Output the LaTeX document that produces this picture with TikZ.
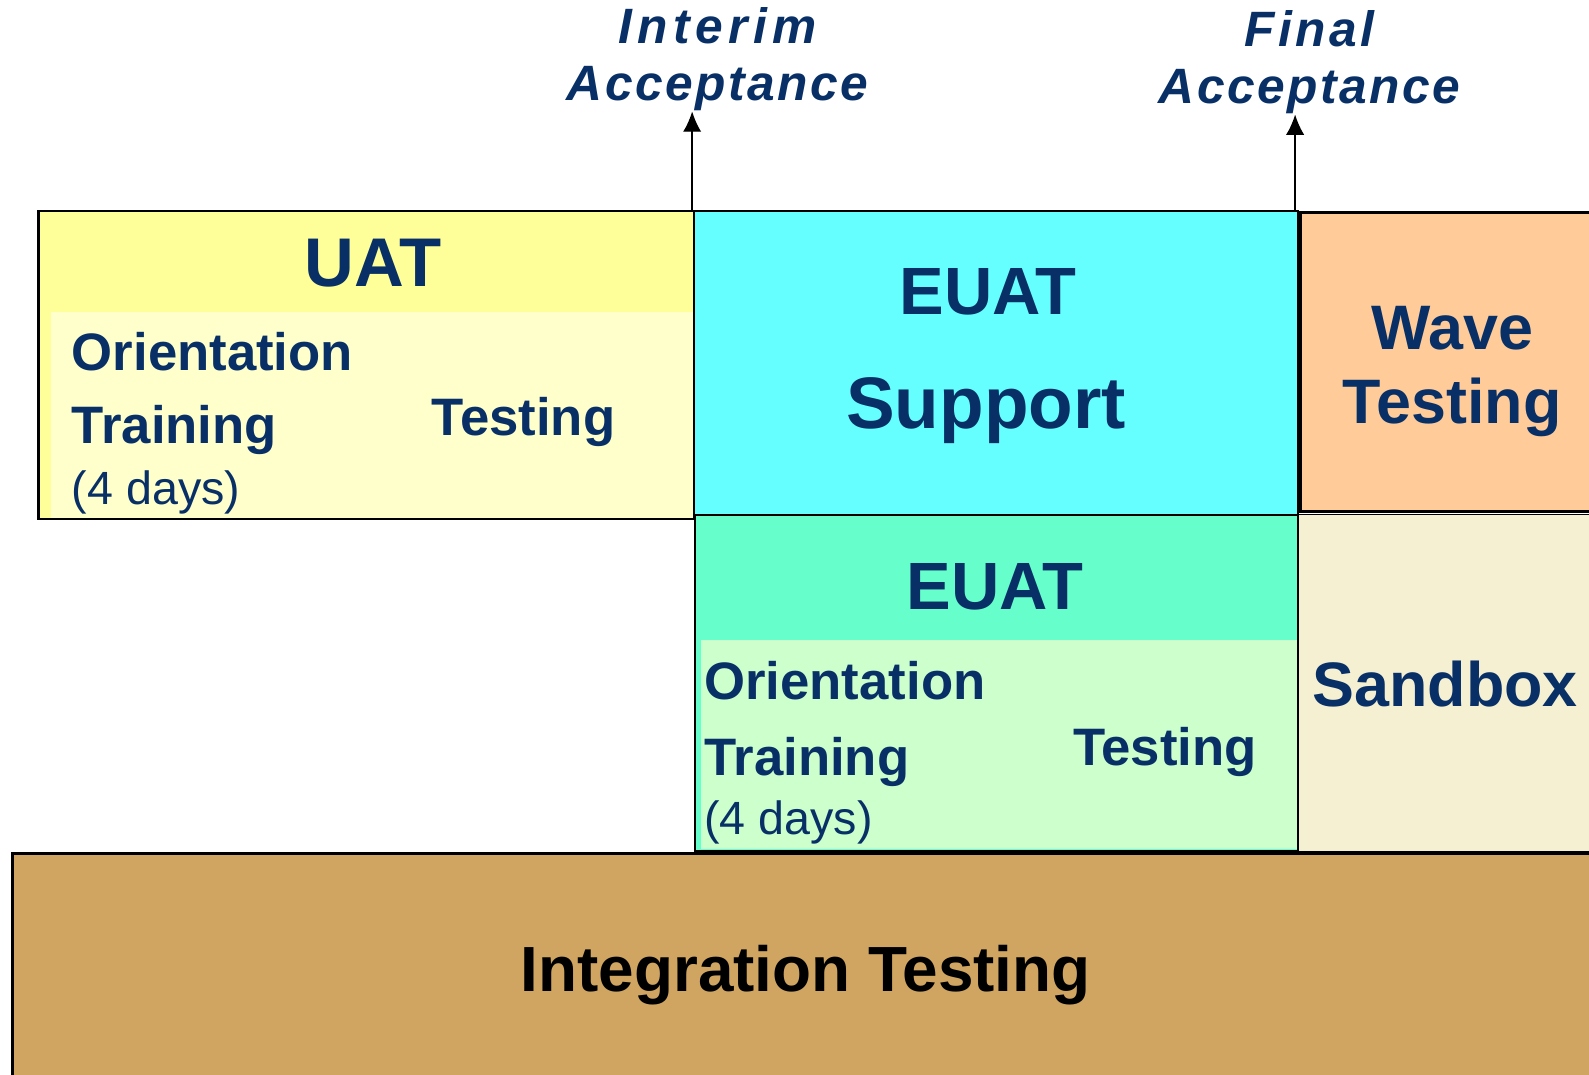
\documentclass[tikz,border=0pt]{standalone}
\usepackage{fontspec}
\setmainfont{Liberation Sans}
\usetikzlibrary{fit, arrows.meta}

\definecolor{navy}{RGB}{8,48,102}
\definecolor{uatyellow}{HTML}{FFFF99}
\definecolor{uatpale}{HTML}{FFFFCC}
\definecolor{supportcyan}{HTML}{66FFFF}
\definecolor{waveorange}{HTML}{FFCC99}
\definecolor{euatgreen}{HTML}{66FFCC}
\definecolor{euatpale}{HTML}{CCFFCC}
\definecolor{sandbeige}{HTML}{F6F0D2}
\definecolor{integtan}{HTML}{D0A561}

\begin{document}
\begin{tikzpicture}[
        x = 0.5pt, y = -0.5pt,
        line width = 1pt,
        pointer/.style = {-{Latex[length = 10pt, width = 9pt]}, line width = 0.7pt},
        box/.style = {draw = black, inner sep = 0pt},
        pane/.style = {draw = none, inner sep = 0pt},
        heading/.style = {text = navy, font = \bfseries\fontsize{#1}{#1}\selectfont, anchor = base},
        heading/.default = 33,
        item/.style = {text = navy, font = \bfseries\fontsize{26}{28}\selectfont, anchor = base west, inner sep = 0pt},
        days/.style = {text = navy, font = \fontsize{23}{25}\selectfont, anchor = base west, inner sep = 0pt},
        milestone/.style = {text = navy, font = \bfseries\itshape\fontsize{24.5}{28}\selectfont, align = center, anchor = south, inner sep = 0pt}
    ]
    \useasboundingbox (0,0) rectangle (1568,1060);

    % boxes, back to front
    \node[box, fill = integtan, line width = 1.5pt, fit = {(12,842) (1590,1080)}] (integ) {};
    \node[box, fill = sandbeige, line width = 0.6pt, fit = {(1281,508) (1590,840)}] (sandbox) {};
    \node[box, fill = waveorange, line width = 1.5pt, fit = {(1283,210) (1590,505)}] (wave) {};
    \node[box, fill = euatgreen, fit = {(686,508) (1281,840)}] (euat) {};
    \node[pane, fill = euatpale, fit = {(692,632) (1280,838)}] (euatpane) {};
    \node[box, fill = supportcyan, fit = {(685,208) (1281,508)}] (support) {};
    \node[box, fill = uatyellow, fit = {(38,208) (685,512)}] (uat) {};
    \node[pane, fill = uatpale, fit = {(50,308) (684,511)}] (uatpane) {};

    % UAT
    \node[heading = 34] (uattitle) at (368,283) {UAT};
    \node[item] (uatorient) at (70,366) {Orientation};
    \node[item] (uattrain) at (70,438) {Training};
    \node[days] (uatdays) at (70,498) {(4 days)};
    \node[item] (uattest) at (425,430) {Testing};

    % EUAT support and wave
    \node[heading] (supporttitle) at (975,310) {EUAT};
    \node[heading = 36] (supportword) at (973,423) {Support};
    \node[heading = 31] (wavetitle) at (1433,345) {Wave};
    \node[heading = 31] (wavetest) at (1433,418) {Testing};

    % EUAT
    \node[heading] (euattitle) at (982,601) {EUAT};
    \node[item] (euatorient) at (694,690) {Orientation};
    \node[item] (euattrain) at (694,765) {Training};
    \node[days] (euatdays) at (694,823) {(4 days)};
    \node[item] (euattest) at (1058,755) {Testing};

    \node[heading = 31] (sandtitle) at (1426,697) {Sandbox};
    \node[heading = 31.5, text = black] (integtitle) at (795,978) {Integration Testing};

    % milestones
    \node[milestone] (interim) at (708,110) {\addfontfeature{LetterSpace = 11}Interim\\\addfontfeature{LetterSpace = 5}Acceptance};
    \node[milestone] (final) at (1292,113) {\addfontfeature{LetterSpace = 7}Final\\\addfontfeature{LetterSpace = 5}Acceptance};
    \draw[pointer] ([xshift = -1.5pt]uat.north east) -- ([xshift = -1.5pt]uat.north east |- interim.south);
    \draw[pointer] ([xshift = -2pt]support.north east) -- ([xshift = -2pt]support.north east |- final.south);
\end{tikzpicture}
\end{document}
